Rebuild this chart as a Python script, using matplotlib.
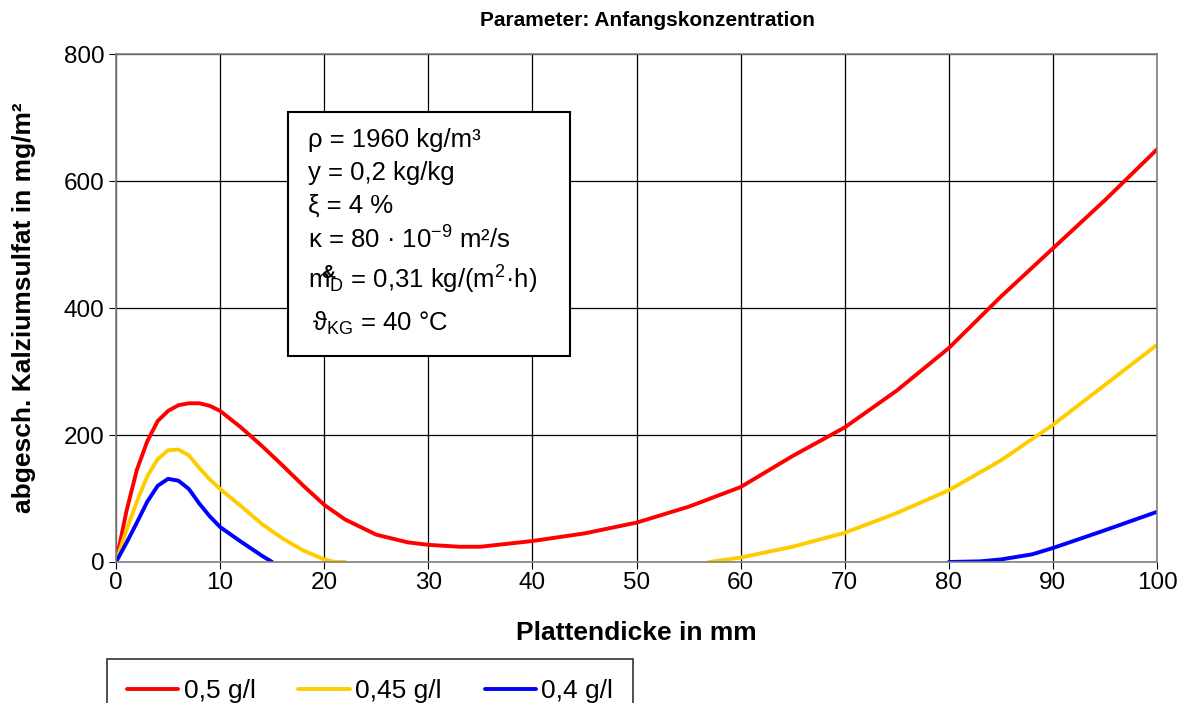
import numpy as np
import matplotlib
matplotlib.use('Agg')
import matplotlib.pyplot as plt

plt.rcParams['font.family'] = ['Liberation Sans', 'DejaVu Sans']
plt.rcParams['mathtext.fontset'] = 'custom'
plt.rcParams['mathtext.rm'] = 'Liberation Sans'
plt.rcParams['mathtext.it'] = 'Liberation Sans:italic'
plt.rcParams['mathtext.bf'] = 'Liberation Sans:bold'

# data (x in mm, y in mg/m2)
x_red = [0, 1, 2, 3, 4, 5, 6, 7, 8, 9, 10, 12, 14, 16, 18, 20, 22, 25, 28, 30, 33, 35,
         40, 45, 50, 55, 60, 65, 70, 75, 80, 85, 90, 95, 100]
y_red = [0, 80, 145, 190, 222, 238, 247, 250, 250, 246, 238, 212, 183, 152, 120, 90, 67,
         43, 31, 27, 24, 24, 33, 45, 62, 87, 118, 167, 212, 270, 337, 418, 494, 570, 650]

x_yel = [0, 1, 2, 3, 4, 5, 6, 7, 8, 9, 10, 12, 14, 16, 18, 20, 21, 22, 40,
         57, 60, 65, 70, 75, 80, 85, 90, 95, 100]
y_yel = [0, 50, 95, 135, 162, 176, 177, 168, 148, 130, 115, 88, 60, 37, 18, 4, 0, 0, np.nan,
         0, 7, 24, 46, 77, 113, 160, 216, 279, 342]

x_blu = [0, 1, 2, 3, 4, 5, 6, 7, 8, 9, 10, 12, 14, 15, 40,
         80, 83, 85, 88, 90, 95, 100]
y_blu = [0, 30, 62, 95, 120, 131, 128, 115, 92, 72, 55, 32, 10, 0, np.nan,
         0, 1, 4, 12, 22, 50, 79]

labels = ['0,5 g/l', '0,45 g/l', '0,4 g/l']
colors = ['#FF0000', '#FFCC00', '#0000FF']

fig = plt.figure(figsize=(11.9, 7.03), dpi=100)
ax = fig.add_axes([0.0975, 0.2006, 0.8748, 0.7224])

for xs, ys, lab, c in zip([x_red, x_yel, x_blu], [y_red, y_yel, y_blu], labels, colors):
    ax.plot(xs, ys, color=c, lw=2.8, label=lab, solid_joinstyle='round', solid_capstyle='round')

ax.set_xlim(0, 100)
ax.set_ylim(0, 800)
ax.set_xticks(np.arange(0, 101, 10))
ax.set_yticks(np.arange(0, 801, 200))
ax.grid(True, color='black', lw=0.9)
ax.set_axisbelow(True)
for s in ax.spines.values():
    s.set_color('#808080')
    s.set_linewidth(1.2)
ax.tick_params(labelsize=17.5, direction='out', length=5, color='black')
ax.tick_params(axis='x', pad=2)

ax.set_title('Parameter: Anfangskonzentration', fontsize=15, fontweight='bold', pad=20, x=0.51)
ax.set_xlabel('Plattendicke in mm', fontsize=19, fontweight='bold', labelpad=20)
ax.set_ylabel('abgesch. Kalziumsulfat in mg/m²', fontsize=19, fontweight='bold', labelpad=20)

# parameter box
bx0, by0 = 288 / 1190, 1 - 356 / 703
bw, bh = (570 - 288) / 1190, (356 - 112) / 703
fig.patches.append(plt.Rectangle((bx0, by0), bw, bh, transform=fig.transFigure,
                                 facecolor='white', edgecolor='black', lw=1.5, zorder=5))
tx = 308 / 1190
fs = 18.5
lines = [
    (140, 'ρ = 1960 kg/m³'),
    (173, 'y = 0,2 kg/kg'),
    (206, 'ξ = 4 %'),
    (240, 'κ = 80 · 10$^{-9}$ m²/s'),
]
for yp, t in lines:
    fig.text(tx, 1 - yp / 703, t, fontsize=fs, va='center', ha='left', zorder=6)
fig.text(tx, 1 - 280 / 703, 'm$_{\\mathrm{D}}$ = 0,31 kg/(m$^{2}$·h)', fontsize=fs,
         va='center', ha='left', zorder=6)
fig.text(tx + 13 / 1190, 1 - 273 / 703, '&', fontsize=14, fontweight='bold',
         va='center', ha='left', zorder=7)
fig.text(tx + 4 / 1190, 1 - 323 / 703, 'ϑ$_{\\mathrm{KG}}$ = 40 °C', fontsize=fs,
         va='center', ha='left', zorder=6)

leg = fig.legend(loc='lower left', bbox_to_anchor=(107 / 1190, -20 / 703), ncol=3,
                 fontsize=19, frameon=True, fancybox=False, edgecolor='black',
                 handlelength=1.95, columnspacing=1.63, borderpad=0.75,
                 handletextpad=0.2, borderaxespad=0)
leg.get_frame().set_linewidth(1.2)

fig.savefig('out.png', dpi=100)
